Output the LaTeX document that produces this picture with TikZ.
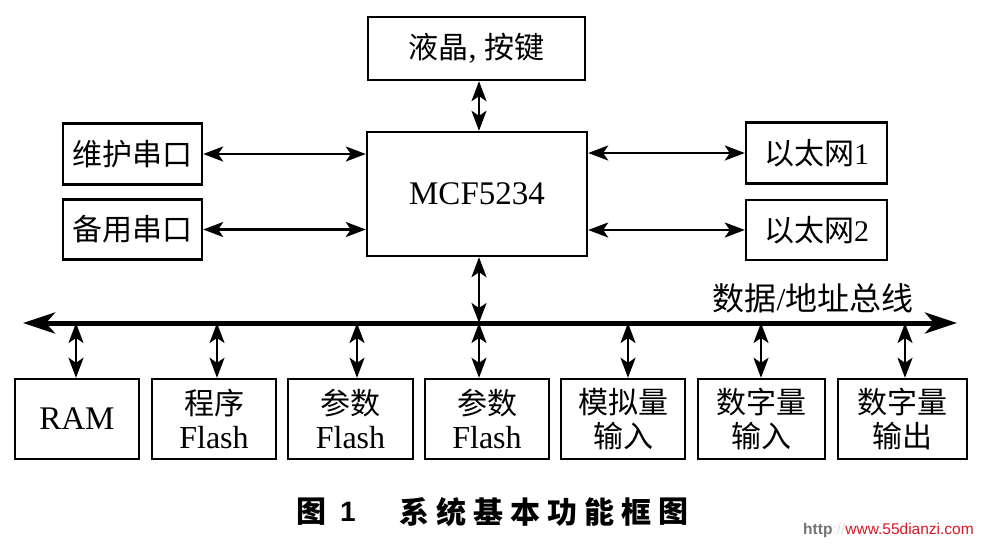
\documentclass[tikz,border=0pt]{standalone}
\usepackage{fontspec}
\setmainfont{Liberation Serif}
\newfontfamily\cjk{Noto Sans CJK SC}
\newfontfamily\wmfont{Liberation Sans}
\usetikzlibrary{arrows.meta}
\newcommand\zhsize{\fontsize{30}{34}\selectfont}
\begin{document}
\begin{tikzpicture}[x=1pt,y=-1pt,
  box/.style={draw, line width=2.4pt, inner sep=0pt, align=center,
              font=\fontsize{32}{34}\selectfont},
  arr/.style={line width=2.4pt, {Stealth[length=20pt,width=15pt,inset=5pt]}-{Stealth[length=20pt,width=15pt,inset=5pt]}},
  bus/.style={line width=5pt, {Stealth[length=32pt,width=21pt,inset=9pt]}-{Stealth[length=32pt,width=21pt,inset=9pt]}},
  captext/.style={font=\cjk\bfseries\fontsize{30}{34}\selectfont, inner sep=0pt}]
\useasboundingbox[fill=white] (0,0) rectangle (982,549);
% top and centre
\node[box, minimum width=217pt, minimum height=63pt] (lcd) at (476.5,48.5)
  {{\cjk\zhsize 液晶}, {\cjk\zhsize 按键}};
\node[box, minimum width=220pt, minimum height=124pt, font=\fontsize{33}{36}\selectfont] (mcu) at (477,194) {MCF5234};
% left
\node[box, minimum width=139pt, minimum height=61pt] (w1) at (132.5,154) {\cjk\zhsize 维护串口};
\node[box, minimum width=139pt, minimum height=60pt] (w2) at (132.5,229.5) {\cjk\zhsize 备用串口};
% right
\node[box, minimum width=141pt, minimum height=61pt] (e1) at (816.5,153) {{\cjk\zhsize 以太网}{\zhsize 1}};
\node[box, minimum width=141pt, minimum height=60pt] (e2) at (816.5,230) {{\cjk\zhsize 以太网}{\zhsize 2}};
% connectors
\draw[arr] (lcd.south -| 479,0) -- (mcu.north -| 479,0);
\draw[arr] (w1.east) -- (w1.east -| mcu.west);
\draw[arr] (w2.east) -- (w2.east -| mcu.west);
\draw[arr] (e1.west -| mcu.east) -- (e1.west);
\draw[arr] (e2.west -| mcu.east) -- (e2.west);
% bus
\coordinate (busL) at (23,323);
\coordinate (busR) at (957,323);
\draw[bus] (busL) -- (busR);
\node[inner sep=0pt] (buslabel) at (813,298) {\fontsize{32}{34}\selectfont{\cjk 数据}/{\cjk 地址总线}};
\draw[arr] (mcu.south -| 479,0) -- (479,323);
% bottom boxes
\node[box, minimum width=124pt, minimum height=80pt, font=\fontsize{33}{36}\selectfont] (ram) at (77,419) {RAM};
\node[box, minimum width=124pt, minimum height=80pt] (prog) at (214,419) {{\cjk\zhsize 程序}\\Flash};
\node[box, minimum width=125pt, minimum height=80pt] (par1) at (350.5,419) {{\cjk\zhsize 参数}\\Flash};
\node[box, minimum width=124pt, minimum height=80pt] (par2) at (487,419) {{\cjk\zhsize 参数}\\Flash};
\node[box, minimum width=124pt, minimum height=80pt] (ain) at (623,419) {{\cjk\zhsize 模拟量}\\{\cjk\zhsize 输入}};
\node[box, minimum width=127pt, minimum height=80pt] (din) at (761.5,419) {{\cjk\zhsize 数字量}\\{\cjk\zhsize 输入}};
\node[box, minimum width=129pt, minimum height=80pt] (dout) at (902.5,419) {{\cjk\zhsize 数字量}\\{\cjk\zhsize 输出}};
\foreach \n/\x in {ram/76, prog/217, par1/357, par2/479, ain/628, din/761, dout/905}{
  \coordinate (b\n) at (\x,323);
  \draw[arr] (b\n) -- (b\n |- \n.north);
}
% caption
\node[captext] (c0) at (311,512) {图};
\node[font=\wmfont\bfseries\fontsize{28}{30}\selectfont, inner sep=0pt] (c1) at (348,512) {1};
\foreach \c [count=\i from 0] in {系,统,基,本,功,能,框,图}{
  \node[captext] (cc\i) at (414+37*\i,512) {\c};
}
% watermark
\node[anchor=west, inner sep=0pt, font=\wmfont\fontsize{15.5}{17}\selectfont] (wm) at (803,530)
  {\textcolor[gray]{0.45}{\bfseries http}\textcolor[gray]{0.88}{://}\textcolor[rgb]{0.85,0.1,0.15}{www.55dianzi.com}};
\end{tikzpicture}
\end{document}
